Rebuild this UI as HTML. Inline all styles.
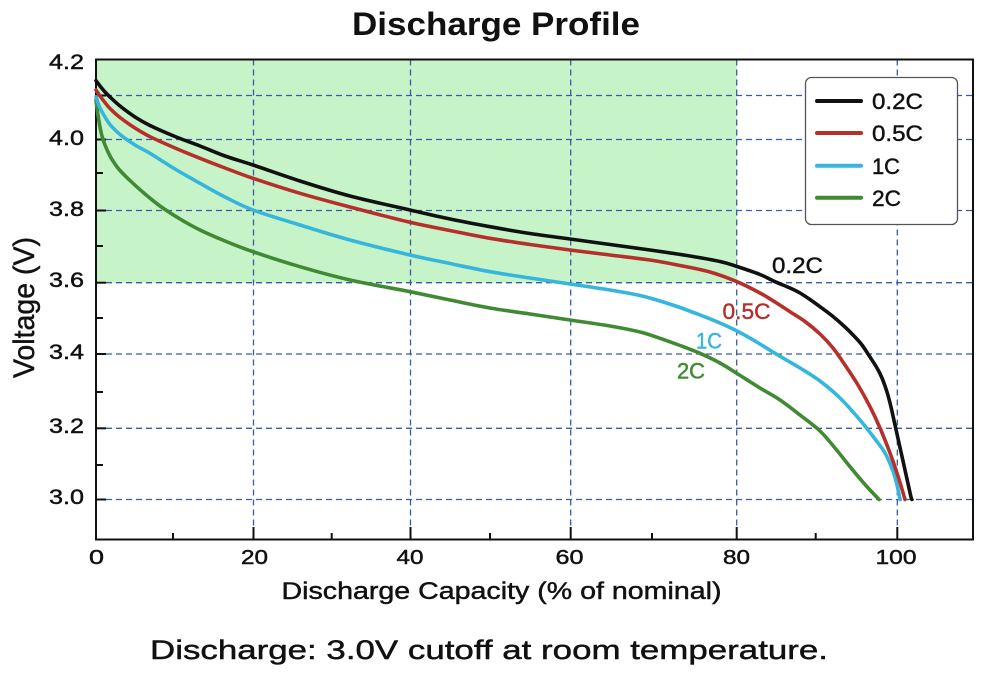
<!DOCTYPE html>
<html>
<head>
<meta charset="utf-8">
<style>
  html, body { margin:0; padding:0; background:#ffffff; }
  svg { display:block; }
  text { font-family: "Liberation Sans", "DejaVu Sans", sans-serif; fill:#111; }
  .m { stroke:#111; stroke-width:0.45; }
</style>
</head>
<body>
<svg width="991" height="673" viewBox="0 0 991 673" xmlns="http://www.w3.org/2000/svg">
  <rect x="0" y="0" width="991" height="673" fill="#ffffff"/>

  <text x="352" y="35" font-size="32" font-weight="bold" textLength="288" lengthAdjust="spacingAndGlyphs">Discharge Profile</text>

  <rect x="96" y="59.5" width="640.7" height="223.2" fill="#c7f3c9"/>

  <g stroke="#3a5ba6" stroke-width="1.3" stroke-dasharray="6,4" fill="none">
    <line x1="96" y1="95.5" x2="973" y2="95.5"/>
    <line x1="96" y1="139.5" x2="973" y2="139.5"/>
    <line x1="96" y1="210.5" x2="973" y2="210.5"/>
    <line x1="96" y1="282.7" x2="973" y2="282.7"/>
    <line x1="96" y1="354" x2="973" y2="354"/>
    <line x1="96" y1="428.3" x2="973" y2="428.3"/>
    <line x1="96" y1="499.5" x2="973" y2="499.5"/>
    <line x1="253.5" y1="59.5" x2="253.5" y2="539.5"/>
    <line x1="410.5" y1="59.5" x2="410.5" y2="539.5"/>
    <line x1="570.7" y1="59.5" x2="570.7" y2="539.5"/>
    <line x1="736.7" y1="59.5" x2="736.7" y2="539.5"/>
    <line x1="897.3" y1="59.5" x2="897.3" y2="539.5"/>
  </g>

  <g stroke="#111" stroke-width="2" fill="none">
    <line x1="96" y1="95.5" x2="106" y2="95.5"/>
    <line x1="96" y1="139.5" x2="106" y2="139.5"/>
    <line x1="96" y1="210.5" x2="106" y2="210.5"/>
    <line x1="96" y1="282.7" x2="106" y2="282.7"/>
    <line x1="96" y1="354" x2="106" y2="354"/>
    <line x1="96" y1="428.3" x2="106" y2="428.3"/>
    <line x1="96" y1="499.5" x2="106" y2="499.5"/>
    <line x1="96" y1="173" x2="103" y2="173"/>
    <line x1="96" y1="246" x2="103" y2="246"/>
    <line x1="96" y1="318" x2="103" y2="318"/>
    <line x1="96" y1="392" x2="103" y2="392"/>
    <line x1="96" y1="465" x2="103" y2="465"/>
    <line x1="253.5" y1="527" x2="253.5" y2="539.5"/>
    <line x1="410.5" y1="527" x2="410.5" y2="539.5"/>
    <line x1="570.7" y1="527" x2="570.7" y2="539.5"/>
    <line x1="736.7" y1="527" x2="736.7" y2="539.5"/>
    <line x1="897.3" y1="527" x2="897.3" y2="539.5"/>
    <line x1="173" y1="533" x2="173" y2="539.5"/>
    <line x1="331.7" y1="533" x2="331.7" y2="539.5"/>
    <line x1="490" y1="533" x2="490" y2="539.5"/>
    <line x1="652" y1="533" x2="652" y2="539.5"/>
    <line x1="815.7" y1="533" x2="815.7" y2="539.5"/>
  </g>

  <rect x="96" y="59.5" width="877" height="480" fill="none" stroke="#111" stroke-width="2"/>

  <g id="curves" fill="none" stroke-width="3.6" stroke-linejoin="round" stroke-linecap="round">
    <polyline stroke="#3f8a32" points="96,100 97,108 98,115 100,127 102,136 105,145 110,156 115,164 120,170.5 130,180.5 145,194 160,206 180,219 200,230 225,241 253,251.7 300,266.7 350,280 410,291.7 450,300 490,308 530,314 570,320 610,326 640,332 660,338.3 680,345.5 700,353.3 720,363 737,373.5 760,388 780,400 800,415 820,431 835,448 850,466.7 865,484.5 879,499.5"/>
    <polyline stroke="#36b6dc" points="96,96.7 98,103 100,108 105,117 110,124.5 120,134.5 135,145 150,153.3 175,169 200,183.3 225,197 253,210 300,225 350,240 410,255 450,263.5 490,271.7 530,278 570,284 610,290 640,295.5 660,301 680,307.5 700,315 720,323 737,331 755,341 775,353.3 800,368 820,381 840,398 860,420 875,439 885,453 893,471 897,485 900,499.5"/>
    <polyline stroke="#b5302a" points="96,90 100,96 105,102.5 110,108.5 120,117.5 135,128 150,136.7 175,148 200,158.3 225,168 253,178.3 300,193.3 350,207 410,222.3 450,230.5 490,238.3 530,244.5 570,250 610,255 650,260 680,265.5 710,272 737,281.7 760,293 775,302 790,311.7 805,321.5 820,334 833,348 845,365 858,385 870,406.7 880,428 890,453 898,476 905,499.5"/>
    <polyline stroke="#111111" points="96,80.7 100,86 105,92 110,97 120,106 135,117 150,125.5 175,136.5 200,146 225,156 253,165 300,181 350,196 410,210 450,219 490,226.7 530,233.5 570,239 610,244.5 650,250 690,256 720,261.5 737,266.5 760,274.5 775,281.7 790,288 800,293 810,299.5 820,306.7 833,316.5 845,327 855,337 862,345 870,357 877,368 882,378 887,392 891,407 895,425 899,443 903,461 907,479 911,497 912,499.5"/>
  </g>

  <text class="m" x="772" y="273" font-size="22" textLength="51" lengthAdjust="spacingAndGlyphs">0.2C</text>
  <text x="722.5" y="319" font-size="22" textLength="48" lengthAdjust="spacingAndGlyphs" style="fill:#b5302a;stroke:#b5302a;stroke-width:0.45">0.5C</text>
  <text x="696" y="348.5" font-size="22" textLength="26" lengthAdjust="spacingAndGlyphs" style="fill:#36b6dc;stroke:#36b6dc;stroke-width:0.45">1C</text>
  <text x="677" y="378.5" font-size="22" textLength="28" lengthAdjust="spacingAndGlyphs" style="fill:#3f8a32;stroke:#3f8a32;stroke-width:0.45">2C</text>

  <rect x="805.5" y="77.5" width="152" height="147" rx="6" ry="6" fill="#ffffff" stroke="#555" stroke-width="1.3"/>
  <g stroke-width="4" stroke-linecap="round">
    <line x1="817" y1="101" x2="861" y2="101" stroke="#111"/>
    <line x1="817" y1="133" x2="861" y2="133" stroke="#b5302a"/>
    <line x1="817" y1="165.7" x2="861" y2="165.7" stroke="#36b6dc"/>
    <line x1="817" y1="197.7" x2="861" y2="197.7" stroke="#3f8a32"/>
  </g>
  <g class="m" font-size="22">
    <text x="872" y="109" textLength="51" lengthAdjust="spacingAndGlyphs">0.2C</text>
    <text x="872" y="141" textLength="51" lengthAdjust="spacingAndGlyphs">0.5C</text>
    <text x="872" y="174" textLength="28" lengthAdjust="spacingAndGlyphs">1C</text>
    <text x="872" y="206" textLength="29" lengthAdjust="spacingAndGlyphs">2C</text>
  </g>

  <g class="m" font-size="21" text-anchor="end">
    <text x="84" y="69" textLength="35" lengthAdjust="spacingAndGlyphs">4.2</text>
    <text x="84" y="145" textLength="35" lengthAdjust="spacingAndGlyphs">4.0</text>
    <text x="84" y="216" textLength="35" lengthAdjust="spacingAndGlyphs">3.8</text>
    <text x="84" y="287" textLength="35" lengthAdjust="spacingAndGlyphs">3.6</text>
    <text x="84" y="359" textLength="35" lengthAdjust="spacingAndGlyphs">3.4</text>
    <text x="84" y="433" textLength="35" lengthAdjust="spacingAndGlyphs">3.2</text>
    <text x="84" y="504" textLength="35" lengthAdjust="spacingAndGlyphs">3.0</text>
  </g>

  <g class="m" font-size="20" text-anchor="middle">
    <text x="96.5" y="564" textLength="15" lengthAdjust="spacingAndGlyphs">0</text>
    <text x="254.5" y="564" textLength="27" lengthAdjust="spacingAndGlyphs">20</text>
    <text x="410" y="564" textLength="27" lengthAdjust="spacingAndGlyphs">40</text>
    <text x="569.5" y="564" textLength="28" lengthAdjust="spacingAndGlyphs">60</text>
    <text x="736.5" y="564" textLength="27" lengthAdjust="spacingAndGlyphs">80</text>
    <text x="896" y="564" textLength="41" lengthAdjust="spacingAndGlyphs">100</text>
  </g>

  <text class="m" x="281.5" y="599" font-size="24" textLength="440" lengthAdjust="spacingAndGlyphs">Discharge Capacity (% of nominal)</text>
  <text class="m" transform="translate(34,378) rotate(-90)" x="0" y="0" font-size="30" textLength="141" lengthAdjust="spacingAndGlyphs">Voltage (V)</text>

  <text class="m" x="150" y="659" font-size="27" textLength="678" lengthAdjust="spacingAndGlyphs">Discharge: 3.0V cutoff at room temperature.</text>
</svg>
<script>
(function(){
  var NS = "http://www.w3.org/2000/svg";
  var g = document.getElementById("curves");
  if (!g) return;
  var pls = g.querySelectorAll("polyline");
  for (var k = 0; k < pls.length; k++) {
    var pl = pls[k];
    var raw = pl.getAttribute("points").trim().split(/\s+/);
    var p = raw.map(function(s){ var a = s.split(","); return [parseFloat(a[0]), parseFloat(a[1])]; });
    var d = "M" + p[0][0] + "," + p[0][1];
    for (var i = 0; i < p.length - 1; i++) {
      var p0 = p[i-1] || p[i], p1 = p[i], p2 = p[i+1], p3 = p[i+2] || p[i+1];
      var c1x = p1[0] + (p2[0]-p0[0])/6, c1y = p1[1] + (p2[1]-p0[1])/6;
      var c2x = p2[0] - (p3[0]-p1[0])/6, c2y = p2[1] - (p3[1]-p1[1])/6;
      d += " C" + c1x.toFixed(2) + "," + c1y.toFixed(2) + " " + c2x.toFixed(2) + "," + c2y.toFixed(2) + " " + p2[0] + "," + p2[1];
    }
    var path = document.createElementNS(NS, "path");
    path.setAttribute("d", d);
    path.setAttribute("stroke", pl.getAttribute("stroke"));
    g.replaceChild(path, pl);
  }
})();
</script>
</body>
</html>
